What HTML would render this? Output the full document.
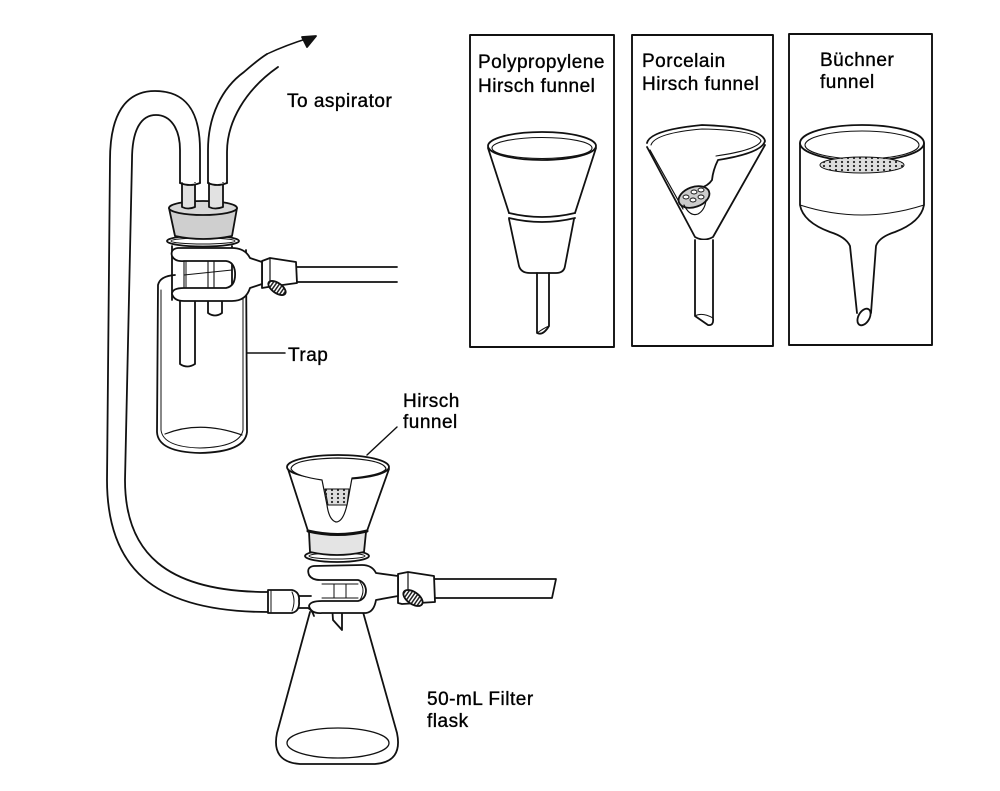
<!DOCTYPE html>
<html><head><meta charset="utf-8">
<style>
html,body{margin:0;padding:0;background:#fff;}
svg{display:block;}
text{font-family:"Liberation Sans",Arial,sans-serif;font-size:19px;letter-spacing:0.5px;fill:#000;stroke:#000;stroke-width:0.35;}
</style></head>
<body>
<svg width="1000" height="791" viewBox="0 0 1000 791" xmlns="http://www.w3.org/2000/svg">
<defs>
<pattern id="dots" width="6" height="4" patternUnits="userSpaceOnUse">
<rect width="6" height="4" fill="#ddd"/>
<circle cx="2" cy="2" r="1.1" fill="#222"/>
</pattern>
<pattern id="hatch" width="3" height="3" patternUnits="userSpaceOnUse">
<rect width="3" height="3" fill="#fff"/>
<rect width="1.5" height="3" fill="#222"/>
</pattern>
</defs>
<g fill="none" stroke="#111" stroke-width="1.8" stroke-linecap="round" stroke-linejoin="round">

<!-- ===== U-shaped tube (trap to flask) ===== -->
<path d="M200,183 L200,150 C200,110 185,91 155,91 C125,91 110,115 110,160 L107,480 C107,565 150,612 268,612"/>
<path d="M180,183 L180,150 C180,128 170,115 156,115 C142,115 132,128 132,160 L125,480 C125,552 165,592 268,592"/>

<!-- Tube to aspirator -->
<path d="M208,183 L208,150 C208,116 222,88 244,72 C252,65 259,59 267,54"/>
<path d="M227,183 L227,152 C227,122 245,90 278,67"/>
<path d="M267,54 C282,47 296,42 309,38" stroke-width="1.5"/>
<polygon points="316,36 307,47 302,37" fill="#111"/>

<!-- ===== Trap bottle ===== -->
<path d="M175,275 Q160,276 158,285 L157,432 Q158,452 200,453 Q245,452 247,432 L246,250" fill="#fff"/>
<path d="M161,290 L161,430 Q163,447 200,448 Q240,447 243,430 L243,290" stroke-width="1"/>
<path d="M165,434 Q200,420 242,435" stroke-width="1.2"/>
<!-- inner tubes -->
<path d="M180,300 L180,364 Q187,369 195,364 L195,300" fill="#fff"/>
<path d="M208,300 L208,313 Q215,318 222,313 L222,300" fill="#fff"/>
<!-- label line -->
<line x1="247" y1="353" x2="285" y2="353" stroke-width="1.5"/>

<!-- rod + clamp holder -->
<path d="M297,267 L397,267 M297,282 L397,282"/>
<path d="M262,261 L270,258 L296,262 L297,283 L268,287 L262,288 Z" fill="#fff"/>
<line x1="270" y1="258" x2="270" y2="284" stroke-width="1.2"/>
<ellipse cx="277" cy="288" rx="10" ry="5" transform="rotate(35 277 288)" fill="url(#hatch)"/>

<!-- neck under ring -->
<path d="M172,246 L172,300 M232,246 L232,300" />
<path d="M184,250 L184,300 M208,250 L208,300 M214,250 L214,300" stroke-width="1.1"/>
<!-- clamp -->
<path d="M178,248 Q170,249 172,256 Q175,262 184,261 L226,261 Q234,262 235,272 Q236,286 226,288 L184,288 Q172,288 172,294 Q174,301 184,301 L232,301 Q246,301 250,288 L262,284 L262,262 L250,258 Q245,248 232,248 Z" fill="#fff"/>
<path d="M184,261 L226,261 M184,288 L226,288" stroke-width="1"/>
<path d="M186,262 L186,287 M208,262 L208,287 M214,262 L214,287" stroke-width="1"/>
<path d="M184,275 L232,270" stroke-width="1"/>

<!-- ring -->
<ellipse cx="203" cy="241" rx="36" ry="5.5" fill="#fff"/>
<ellipse cx="203" cy="241" rx="32" ry="3" stroke-width="1"/>

<!-- stopper -->
<path d="M169,208 L175,236 Q203,242 232,236 L237,208" fill="#cfcfcf"/>
<ellipse cx="203" cy="208" rx="34" ry="7" fill="#d8d8d8"/>
<!-- glass tubes above stopper -->
<path d="M182,183 L182,207 Q188,210 195,207 L195,183" fill="#e2e2e2"/>
<path d="M209,183 L209,207 Q215,210 223,207 L223,183" fill="#e2e2e2"/>
<!-- rubber tube ends -->
<path d="M180,183 Q190,187 200,183" fill="#fff"/>
<path d="M208,183 Q217,187 227,183" fill="#fff"/>

<!-- ===== Filter flask ===== -->
<path d="M310,612 L277,733 Q271,762 300,764 L375,764 Q403,762 397,733 L363,612" fill="#fff"/>
<ellipse cx="338" cy="743" rx="51" ry="15" stroke-width="1.3"/>
<!-- sidearm -->
<path d="M297,596 L311,596 M297,608 L308,608 Q312,610 314,616" fill="none"/>
<!-- sleeve -->
<path d="M268,590 L292,590 Q300,592 299,601 Q300,611 292,613 L268,613 Z" fill="#fff"/>
<line x1="271" y1="591" x2="271" y2="612" stroke-width="1"/>
<path d="M292,592 Q296,601 292,611" stroke-width="1"/>
<!-- funnel stem in flask -->
<path d="M332,605 L333,620 L342,630 L342,605" fill="#fff"/>

<!-- rod + holder -->
<path d="M435,579 L556,579 L552,598 L435,598"/>
<path d="M398,574 L408,572 L434,576 L435,602 L402,604 L398,603 Z" fill="#fff"/>
<line x1="408" y1="572" x2="408" y2="600" stroke-width="1.2"/>
<ellipse cx="413" cy="598" rx="11" ry="6" transform="rotate(35 413 598)" fill="url(#hatch)"/>

<!-- clamp -->
<path d="M314,566 Q306,567 309,575 Q312,580 320,580 L358,580 Q365,582 366,590 Q366,599 358,601 L322,601 Q310,601 309,606 Q311,614 322,613 L366,613 Q374,612 376,600 L398,596 L398,576 L376,573 Q372,565 362,565 Z" fill="#fff"/>
<path d="M322,584 L358,584 M322,598 L358,598" stroke-width="1"/>
<path d="M334,584 L334,598 M346,584 L346,598" stroke-width="1"/>
<path d="M360,582 Q366,590 360,600" stroke-width="1"/>

<!-- ring -->
<ellipse cx="337" cy="556" rx="32" ry="6" fill="#fff"/>
<ellipse cx="337" cy="556" rx="28" ry="3" stroke-width="1"/>
<!-- adapter -->
<path d="M309,532 L310,552 Q337,558 364,552 L366,532" fill="#e4e4e4"/>
<!-- Hirsch funnel -->
<path d="M288,469 L308,531 Q338,538 367,531 L389,469" fill="#fff"/>
<path d="M308,531 Q338,538 367,531" stroke-width="3"/>
<ellipse cx="338" cy="467" rx="51" ry="12" fill="#fff"/>
<path d="M291,469 Q292,459 338,458 Q384,459 386,469 Q382,475 352,478 L348,500 Q344,522 336,522 Q329,520 327,505 L322,480 Q295,476 291,469 Z" fill="#fff" stroke-width="1.2"/>
<path d="M325,489 L349,489 L347,505 L328,505 Z" fill="url(#dots)" stroke-width="1"/>
<!-- leader -->
<line x1="367" y1="455" x2="397" y2="427" stroke-width="1.4"/>

<!-- ===== Boxes ===== -->
<rect x="470" y="35" width="144" height="312" stroke-width="1.9"/>
<rect x="632" y="35" width="141" height="311" stroke-width="1.9"/>
<rect x="789" y="34" width="143" height="311" stroke-width="1.9"/>

<!-- Polypropylene Hirsch funnel -->
<path d="M488,148 L509,213 M596,148 L575,213"/>
<ellipse cx="542" cy="146" rx="54" ry="14" fill="#fff"/>
<ellipse cx="542" cy="148" rx="50" ry="10.5" stroke-width="1.1"/>
<path d="M509,213 Q542,221 575,213 M509,218 Q542,226 575,218"/>
<path d="M509,219 L519,266 Q521,273 530,273 L556,273 Q564,273 565,266 L574,219"/>
<path d="M537,273 L537,333 Q543,336 549,326 L549,273"/>
<path d="M537,333 Q544,328 549,326" stroke-width="1"/>

<!-- Porcelain Hirsch funnel -->
<path d="M647,147 L695,237 Q704,242 713,237 L765,145"/>
<path d="M647,143 Q650,130 702,125 Q762,127 765,141 Q762,153 718,160 Q713,170 712,180 Q708,186 700,188"/>
<path d="M651,145 Q655,133 702,129 Q757,130 761,141 Q757,150 716,156" stroke-width="1.1"/>
<path d="M650,150 L683,209" stroke-width="1.2"/>
<ellipse cx="694" cy="197" rx="16" ry="10" transform="rotate(-20 694 197)" fill="#ccc"/>
<g stroke-width="0.9" fill="#fff">
<ellipse cx="686" cy="197" rx="3" ry="2"/>
<ellipse cx="694" cy="192" rx="3" ry="2"/>
<ellipse cx="701" cy="190" rx="3" ry="2"/>
<ellipse cx="693" cy="200" rx="3" ry="2"/>
<ellipse cx="701" cy="197" rx="3" ry="2"/>
</g>
<path d="M684,205 Q690,217 698,214 Q705,210 706,200" stroke-width="1.2"/>
<path d="M695,240 L695,316 L708,325 Q714,326 713,318 L713,240" fill="#fff"/>
<path d="M695,316 Q702,312 713,318" stroke-width="1"/>

<!-- Buchner funnel -->
<path d="M800,143 L800,205 Q803,222 830,232 Q846,237 850,246 L857,313 M924,143 L924,205 Q921,222 895,232 Q879,237 876,246 L871,313"/>
<path d="M800,205 Q862,225 924,205" stroke-width="1"/>
<ellipse cx="862" cy="143" rx="62" ry="18" fill="#fff"/>
<ellipse cx="862" cy="145" rx="57" ry="14" stroke-width="1.1"/>
<ellipse cx="862" cy="165" rx="42" ry="8" fill="url(#dots)" stroke-width="1"/>
<ellipse cx="864" cy="317" rx="5.5" ry="9" transform="rotate(30 864 317)" fill="#fff" stroke-width="1.8"/>
</g>

<!-- ===== Text ===== -->
<text x="287" y="107">To aspirator</text>
<text x="288" y="361">Trap</text>
<text x="403" y="407">Hirsch</text>
<text x="403" y="428">funnel</text>
<text x="427" y="705">50-mL Filter</text>
<text x="427" y="727">flask</text>
<text x="478" y="68">Polypropylene</text>
<text x="478" y="92">Hirsch funnel</text>
<text x="642" y="67">Porcelain</text>
<text x="642" y="90">Hirsch funnel</text>
<text x="820" y="66">Büchner</text>
<text x="820" y="88">funnel</text>
</svg>
</body></html>
